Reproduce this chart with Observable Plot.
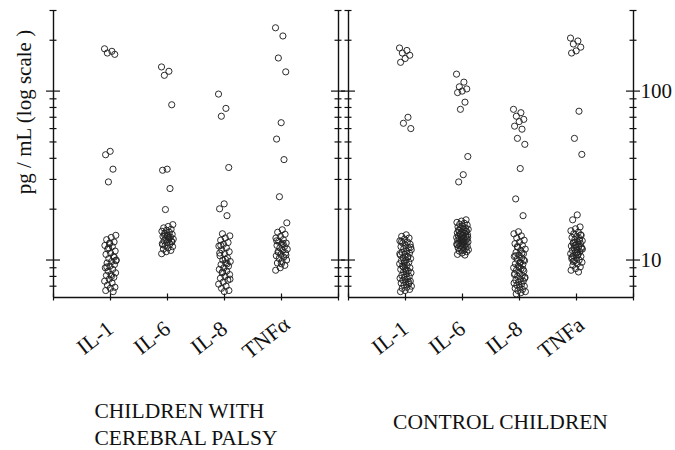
<!DOCTYPE html>
<html>
<head>
<meta charset="utf-8">
<script src="https://cdn.jsdelivr.net/npm/d3@7"></script>
<script src="https://cdn.jsdelivr.net/npm/@observablehq/plot@0.6"></script>
<style>
  html, body { margin: 0; padding: 0; background: #fff; }
  #chart svg { display: block; background: #fff; }
</style>
</head>
<body>
<div id="chart"></div>
<script>
// ---- Data (pg/mL) ----
const groups = ["CP", "CTL"];
const groupTitles = ["CHILDREN WITH\nCEREBRAL PALSY", "CONTROL CHILDREN"];
const catsCP = ["IL-1", "IL-6", "IL-8", "TNFα"];
const catsCtl = ["IL-1", "IL-6", "IL-8", "TNFa"];

const cpIL1 = [178, 172, 168, 165, 44, 42, 34.5, 29,
  14.0, 13.6, 13.2, 12.8, 12.5, 12.2, 12.0, 11.6, 11.3, 11.0, 10.8, 10.5, 10.2, 10.0,
  9.8, 9.6, 9.4, 9.2, 9.0, 8.8, 8.6, 8.4, 8.2, 8.1, 7.9, 7.7, 7.5, 7.3, 7.1, 6.9, 6.8,
  6.6, 6.5, 11.8, 9.9, 8.0, 9.1, 10.4, 12.6];
const cpIL6 = [139, 131, 124, 83, 34.5, 34, 26.5, 19.9,
  16.2, 15.8, 15.5, 15.2, 15.0, 14.8, 14.6, 14.4, 14.2, 14.0, 13.8, 13.7, 13.5, 13.3,
  13.2, 13.0, 12.9, 12.7, 12.5, 12.4, 12.2, 12.0, 11.8, 11.6, 11.4, 11.2, 10.9, 13.6,
  14.1, 12.8, 13.9, 12.3];
const cpIL8 = [96, 79, 71, 35.3, 21.5, 20.1, 18.3,
  14.3, 13.9, 13.5, 13.1, 12.7, 12.4, 12.1, 11.8, 11.5, 11.2, 10.9, 10.6, 10.3, 10.0,
  9.8, 9.6, 9.4, 9.2, 9.0, 8.8, 8.6, 8.4, 8.2, 8.0, 7.8, 7.6, 7.4, 7.2, 7.0, 6.8, 6.6,
  6.5, 11.0, 9.5, 8.5, 7.7, 10.1, 12.2];
const cpTNF = [237, 212, 157, 130, 65, 52, 39.3, 23.7, 16.6,
  15.1, 14.6, 14.2, 13.8, 13.5, 13.2, 12.9, 12.6, 12.4, 12.2, 12.0, 11.8, 11.6, 11.4,
  11.2, 11.0, 10.8, 10.6, 10.4, 10.2, 10.0, 9.8, 9.6, 9.3, 9.0, 8.7, 12.5, 11.1, 10.7,
  9.5, 13.0];

const ctlIL1 = [180, 174, 168, 163, 156, 148, 70, 64.5, 60,
  14.1, 13.8, 13.5, 13.3, 13.0, 12.8, 12.6, 12.4, 12.2, 12.0, 11.8, 11.7, 11.5, 11.3,
  11.1, 11.0, 10.8, 10.7, 10.5, 10.3, 10.2, 10.0, 9.9, 9.7, 9.6, 9.5, 9.3, 9.2, 9.0,
  8.9, 8.8, 8.6, 8.5, 8.4, 8.3, 8.1, 8.0, 7.9, 7.8, 7.7, 7.6, 7.5, 7.4, 7.3, 7.2, 7.1,
  7.0, 6.9, 6.8, 6.7, 6.6, 6.5, 10.4, 9.1, 11.9, 8.7, 12.9, 7.35, 9.8, 10.9];
const ctlIL6 = [126, 113, 106, 103, 100, 98, 86, 78, 41, 32, 29,
  17.3, 17.0, 16.7, 16.5, 16.3, 16.1, 15.9, 15.7, 15.5, 15.4, 15.2, 15.1, 14.9, 14.8,
  14.6, 14.5, 14.4, 14.2, 14.1, 14.0, 13.9, 13.8, 13.7, 13.6, 13.5, 13.4, 13.3, 13.2,
  13.1, 13.0, 12.9, 12.8, 12.7, 12.6, 12.5, 12.4, 12.3, 12.2, 12.1, 12.0, 11.9, 11.8,
  11.7, 11.6, 11.5, 11.4, 11.3, 11.2, 11.0, 10.8, 10.7, 14.3, 13.65, 12.85, 15.0, 14.7,
  13.25, 12.45];
const ctlIL8 = [78, 74.5, 71, 68, 66, 62, 59.5, 52.5, 48.4, 34.8, 23, 18.3,
  14.7, 14.3, 13.9, 13.5, 13.1, 12.8, 12.5, 12.2, 11.9, 11.6, 11.4, 11.1, 10.9, 10.7,
  10.5, 10.3, 10.1, 9.9, 9.7, 9.5, 9.4, 9.2, 9.0, 8.9, 8.7, 8.6, 8.4, 8.3, 8.1, 8.0,
  7.9, 7.7, 7.6, 7.5, 7.4, 7.3, 7.2, 7.1, 7.0, 6.9, 6.8, 6.7, 6.6, 6.5, 6.4, 6.3, 10.0,
  9.1, 8.2, 11.0, 12.0, 7.8, 9.6, 10.6, 8.8];
const ctlTNF = [206, 198, 190, 182, 173, 168, 76, 52.5, 42.2, 18.5, 17.3,
  15.7, 15.3, 14.9, 14.6, 14.3, 14.0, 13.8, 13.6, 13.4, 13.2, 13.0, 12.8, 12.6, 12.5,
  12.3, 12.1, 12.0, 11.8, 11.7, 11.5, 11.4, 11.2, 11.1, 10.9, 10.8, 10.6, 10.5, 10.3,
  10.2, 10.0, 9.9, 9.7, 9.5, 9.3, 9.1, 8.9, 8.7, 8.5, 12.7, 11.9, 11.0, 10.4, 13.1,
  12.2, 11.6, 10.7, 9.8, 14.1];

const seriesCP = [cpIL1, cpIL6, cpIL8, cpTNF];
const seriesCtl = [ctlIL1, ctlIL6, ctlIL8, ctlTNF];

// axis ticks
const yTicksMinor = [7, 8, 9, 20, 30, 40, 50, 60, 70, 80, 90, 200, 300];
const yTicksMajor = [10, 100];
const yTickLabels = [10, 100];
const xTicks = [0, 1, 2, 3, 4, 5];
const yLabel = "pg / mL (log scale )";

// ---- Build tables ----
const jitter = i => (((i * 0.61803398875) % 1) - 0.5) * 0.21;
const points = [];
[[groups[0], seriesCP], [groups[1], seriesCtl]].forEach(([g, series]) => {
  series.forEach((vals, k) => {
    vals.forEach((v, i) => points.push({g, x: k + 1 + jitter(i), y: v}));
  });
});
const catRows = [
  ...catsCP.map((c, k) => ({g: groups[0], pos: k + 1, label: c})),
  ...catsCtl.map((c, k) => ({g: groups[1], pos: k + 1, label: c}))
];
const edges = [0, 5];
const minorRows = yTicksMinor.flatMap(t => edges.map(e => ({t, e})));
const majorRows = yTicksMajor.flatMap(t => edges.map(e => ({t, e})));

const font = "'Liberation Serif', 'Times New Roman', Times, serif";
const ink = "#111";

const chart = Plot.plot({
  width: 675,
  height: 450,
  marginTop: 10,
  marginBottom: 153,
  marginLeft: 53,
  marginRight: 41,
  style: {fontFamily: font, background: "#fff"},
  fx: {domain: groups, paddingInner: 0.0338, paddingOuter: 0, axis: null},
  x: {domain: [0, 5], axis: null},
  y: {type: "log", domain: [6, 300], axis: null},
  marks: [
    // frame lines
    Plot.ruleX(edges, {x: d => d, y1: 6, y2: 300, stroke: ink, strokeWidth: 1.4}),
    Plot.ruleY([6], {y: d => d, x1: 0, x2: 5, stroke: ink, strokeWidth: 1.4}),
    // y ticks crossing both edges
    Plot.ruleY(minorRows, {y: "t", x1: "e", x2: "e", insetLeft: -3.5, insetRight: -3.5, stroke: ink, strokeWidth: 1.2}),
    Plot.ruleY(majorRows, {y: "t", x1: "e", x2: "e", insetLeft: -7, insetRight: -7, stroke: ink, strokeWidth: 1.2}),
    // x ticks
    Plot.ruleX(xTicks, {x: d => d, y1: 6, y2: 6, insetTop: -3.5, insetBottom: -3.5, stroke: ink, strokeWidth: 1.2}),
    // points
    Plot.dot(points, {fx: "g", x: "x", y: "y", r: 3.1, fill: "none", stroke: "#222", strokeWidth: 0.95}),
    // category labels
    Plot.text(catRows, {fx: "g", x: "pos", text: "label", frameAnchor: "bottom", dx: -11, dy: 46,
      rotate: -38, textAnchor: "middle", fontSize: 22, fill: ink}),
    // right-side tick labels
    Plot.text(yTickLabels.map(v => ({g: groups[1], v})), {fx: "g", y: "v", text: d => String(d.v),
      frameAnchor: "right", textAnchor: "start", dx: 7, fontSize: 21, fill: ink}),
    // y axis label
    Plot.text([{g: groups[0]}], {fx: "g", frameAnchor: "left", text: () => yLabel, rotate: -90,
      textAnchor: "middle", dx: -29, dy: -42, fontSize: 21, fill: ink}),
    // group titles
    Plot.text([{g: groups[0], t: groupTitles[0]}], {fx: "g", text: "t", frameAnchor: "bottom-left",
      textAnchor: "start", dx: 41, dy: 125, lineAnchor: "middle", lineHeight: 1.26, fontSize: 21.5, fill: ink}),
    Plot.text([{g: groups[1], t: groupTitles[1]}], {fx: "g", text: "t", frameAnchor: "bottom",
      textAnchor: "middle", dx: 9.5, dy: 125, lineAnchor: "middle", fontSize: 21.5, fill: ink})
  ]
});
document.getElementById("chart").append(chart);
</script>
</body>
</html>
